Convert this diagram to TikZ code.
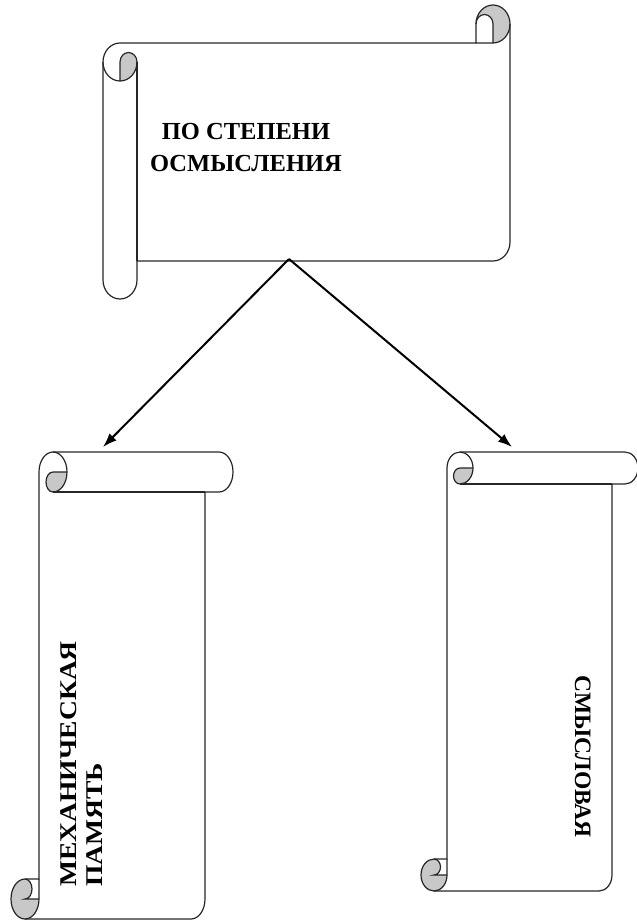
\documentclass[tikz,border=0pt]{standalone}
\usepackage{fontspec}
\setmainfont{Liberation Serif}
\newfontfamily\tallserif[FakeStretch=1.15]{Liberation Serif}
\usepackage{tikz}
\usetikzlibrary{arrows.meta}
\definecolor{curlgray}{RGB}{200,200,200}

% horizontal scroll: left, top, right, bottom, roll width, roll height
\newcommand{\scrollH}[6]{%
  \begin{scope}[shift={(#1,#2)}]
    \pgfmathsetmacro{\scW}{#3-#1}\pgfmathsetmacro{\scH}{#4-#2}
    \pgfmathsetmacro{\scA}{#5}\pgfmathsetmacro{\scB}{#6}
    \pgfmathsetmacro{\scAh}{#5/2}\pgfmathsetmacro{\scBh}{#6/2}
    \pgfmathsetmacro{\scAq}{#5/4}\pgfmathsetmacro{\scBq}{#6/4}
    %curls
    \fill [curlgray] ({\scW-\scAh},\scB) arc[start angle=90,delta angle=-270,x radius=\scAh,y radius=\scBh] arc[start angle=180,delta angle=180,x radius=\scAq,y radius=\scBq] -- cycle ;
    \fill [curlgray] (\scAh,{2*\scB}) arc[start angle=90,delta angle=-90,x radius=\scAh,y radius=\scBh] arc[start angle=0,delta angle=-180,x radius=\scAq,y radius=\scBq] -- cycle ;
    %outline
    \draw [scrollline] (0,{\scB+\scBh}) arc[start angle=180,delta angle=90,x radius=\scAh,y radius=\scBh] -- ({\scW-\scA},\scB) -- ({\scW-\scA},\scBh) arc[start angle=180,delta angle=180,x radius=\scAh,y radius=\scBh] -- (\scW,{\scH-\scB-\scBh}) arc[start angle=0,delta angle=90,x radius=\scAh,y radius=\scBh] -- (\scA,{\scH-\scB}) -- (\scA,{\scH-\scBh}) arc[start angle=0,delta angle=180,x radius=\scAh,y radius=\scBh] -- cycle ;
    \draw [scrollline] ({\scW-\scA},\scB) -- ({\scW-\scAh},\scB) arc[start angle=90,delta angle=-90,x radius=\scAh,y radius=\scBh] ;
    \draw [scrollline] ({\scW-\scAh},\scB) -- ({\scW-\scAh},\scBh) arc[start angle=0,delta angle=-180,x radius=\scAq,y radius=\scBq] ;
    \draw [scrollline] (\scAh,{2*\scB}) -- (\scAh,{\scB+\scBh}) arc[start angle=180,delta angle=180,x radius=\scAq,y radius=\scBq] arc[start angle=0,delta angle=180,x radius=\scAh,y radius=\scBh] ;
    \draw [scrollline] (\scA,{\scB+\scBh}) -- (\scA,{\scH-\scB}) ;
  \end{scope}}

% vertical scroll: left, top, right, bottom, roll width, roll height
\newcommand{\scrollV}[6]{%
  \begin{scope}[shift={(#1,#2)}]
    \pgfmathsetmacro{\scW}{#3-#1}\pgfmathsetmacro{\scH}{#4-#2}
    \pgfmathsetmacro{\scA}{#5}\pgfmathsetmacro{\scB}{#6}
    \pgfmathsetmacro{\scAh}{#5/2}\pgfmathsetmacro{\scBh}{#6/2}
    \pgfmathsetmacro{\scAq}{#5/4}\pgfmathsetmacro{\scBq}{#6/4}
    %curls
    \fill [curlgray] ({2*\scA},\scBh) arc[start angle=0,delta angle=90,x radius=\scAh,y radius=\scBh] arc[start angle=90,delta angle=180,x radius=\scAq,y radius=\scBq] -- cycle ;
    \fill [curlgray] (\scA,{\scH-\scBh}) arc[start angle=0,delta angle=270,x radius=\scAh,y radius=\scBh] arc[start angle=270,delta angle=180,x radius=\scAq,y radius=\scBq] -- cycle ;
    %outline
    \draw [scrollline] (\scA,{\scH-\scB}) -- (\scA,\scBh) arc[start angle=180,delta angle=90,x radius=\scAh,y radius=\scBh] -- ({\scW-\scAh},0) arc[start angle=270,delta angle=180,x radius=\scAh,y radius=\scBh] -- ({\scW-\scA},\scB) -- ({\scW-\scA},{\scH-\scBh}) arc[start angle=0,delta angle=90,x radius=\scAh,y radius=\scBh] -- (\scAh,\scH) arc[start angle=90,delta angle=180,x radius=\scAh,y radius=\scBh] -- cycle ;
    \draw [scrollline] ({\scA+\scAh},0) arc[start angle=270,delta angle=180,x radius=\scAh,y radius=\scBh] arc[start angle=90,delta angle=180,x radius=\scAq,y radius=\scBq] -- ({2*\scA},\scBh) ;
    \draw [scrollline] ({\scW-\scA},\scB) -- ({\scA+\scAh},\scB) ;
    \draw [scrollline] (\scAh,{\scH-\scB}) arc[start angle=270,delta angle=180,x radius=\scAq,y radius=\scBq] -- (\scA,{\scH-\scBh}) ;
    \draw [scrollline] (\scAh,\scH) arc[start angle=90,delta angle=-90,x radius=\scAh,y radius=\scBh] -- (\scA,{\scH-\scB}) ;
  \end{scope}}

\begin{document}
\begin{tikzpicture}[x=1pt,y=1pt,yscale=-1,xscale=1,
    scrollline/.style={line width=1.2pt,color=black!85},
    arr/.style={line width=2pt,-{Latex[length=14pt,width=10pt]}},
    lbl/.style={inner sep=0pt}]
        \useasboundingbox (0,0) rectangle (637,921);

        %Scrolls
        \scrollH{103}{5}{510}{299}{34}{38}
        \scrollV{11}{452}{233}{919}{28}{40}
        \scrollV{421}{452}{638}{891}{26}{32}

        % Text Nodes
        \node [lbl, anchor=north, align=center, font=\bfseries\fontsize{24.5}{32}\selectfont] (depth) at (246,123) {ПО СТЕПЕНИ\\ОСМЫСЛЕНИЯ};
        \node [lbl, rotate=90, anchor=north west, align=left, font=\tallserif\bfseries\fontsize{24}{26}\selectfont] (mech) at (60,887) {МЕХАНИЧЕСКАЯ\\ПАМЯТЬ};
        \node [lbl, rotate=-90, anchor=north west, font=\bfseries\fontsize{23.5}{28}\selectfont] (sense) at (591,675) {СМЫСЛОВАЯ};

        %Arrows
        \coordinate (apex) at (289,259);
        \coordinate (tipL) at (103,447);
        \coordinate (tipR) at (512,447);
        \draw [arr] (apex) -- (tipL);
        \draw [arr] (apex) -- (tipR);

\end{tikzpicture}
\end{document}
